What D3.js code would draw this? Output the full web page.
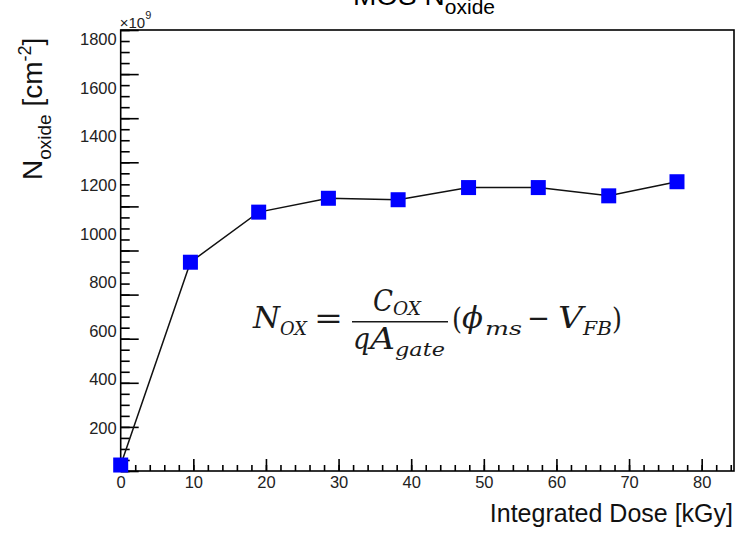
<!DOCTYPE html>
<html>
<head>
<meta charset="utf-8">
<script src="https://cdn.jsdelivr.net/npm/d3@7"></script>
<style>
  body { margin: 0; background: #fff; }
  svg { display: block; font-family: "Liberation Sans", Arial, Helvetica, sans-serif; }
  .math { font-family: "DejaVu Serif", "Liberation Serif", serif; }
</style>
</head>
<body>
<div id="chart"></div>
<script>
// dose points [kGy] and oxide charge [x10^9 cm^-2]
var dose = [0, 9.6, 19.0, 28.6, 38.2, 47.9, 57.5, 67.2, 76.6]
var nOxide = [49, 883, 1089, 1146, 1140, 1190, 1190, 1156, 1214]
var xTicks = [0, 10, 20, 30, 40, 50, 60, 70, 80]
var yLabels = [200, 400, 600, 800, 1000, 1200, 1400, 1600, 1800]

var W = 749, H = 533
var frame = {left: 120.7, right: 734, top: 30, bottom: 471}

var svg = d3.select("#chart")
    .append("svg")
      .attr("width", W)
      .attr("height", H)

var x = d3.scaleLinear()
    .domain([0, 84.45])
    .range([frame.left, frame.right])

// value scale (labels + points)
var y = d3.scaleLinear()
    .domain([24.4, 1838])
    .range([frame.bottom, frame.top])

// frame tick scale, the tick marks sit on their own grid in the picture
var yTick = d3.scaleLinear()
    .domain([0, 2000])
    .range([frame.bottom, frame.top])

// frame box
svg.append("rect")
    .attr("x", frame.left)
    .attr("y", frame.top)
    .attr("width", frame.right - frame.left)
    .attr("height", frame.bottom - frame.top)
    .attr("fill", "none")
    .attr("stroke", "#000")
    .attr("stroke-width", 1.6)

// x axis, minor + major ticks
svg.append("g")
    .attr("transform", "translate(0," + frame.bottom + ")")
    .call(d3.axisBottom(x).tickValues(d3.range(0, 85, 2)).tickSize(-6).tickFormat(""))
    .call(function(g) { g.select(".domain").remove() })
svg.append("g")
    .attr("class", "xaxis")
    .attr("transform", "translate(0," + frame.bottom + ")")
    .call(d3.axisBottom(x).tickValues(xTicks).tickSize(-12).tickPadding(5).tickFormat(d3.format("d")))
    .call(function(g) { g.select(".domain").remove() })

// y axis ticks
svg.append("g")
    .attr("transform", "translate(" + frame.left + ",0)")
    .call(d3.axisLeft(yTick).tickValues(d3.range(0, 2001, 50)).tickSize(-9).tickFormat(""))
    .call(function(g) { g.select(".domain").remove() })
svg.append("g")
    .attr("transform", "translate(" + frame.left + ",0)")
    .call(d3.axisLeft(yTick).tickValues(d3.range(0, 2001, 200)).tickSize(-18).tickFormat(""))
    .call(function(g) { g.select(".domain").remove() })
// y labels
svg.append("g")
    .attr("class", "yaxis")
    .attr("transform", "translate(" + frame.left + ",0)")
    .call(d3.axisLeft(y).tickValues(yLabels).tickSize(0).tickPadding(4).tickFormat(d3.format("d")))
    .call(function(g) { g.select(".domain").remove() })

svg.selectAll(".tick line").attr("stroke", "#000").attr("stroke-width", 1.6)
svg.selectAll(".xaxis text, .yaxis text")
    .style("font-family", "'Liberation Sans', Arial, sans-serif")
    .style("font-size", "16.5px")
    .attr("fill", "#222")

// line + markers
var line = d3.line()
    .x(function(d, i) { return x(dose[i]) })
    .y(function(d) { return y(d) })

svg.append("path")
    .datum(nOxide)
    .attr("d", line)
    .attr("fill", "none")
    .attr("stroke", "#111")
    .attr("stroke-width", 1.5)

var ms = 15
svg.selectAll("rect.pt")
    .data(nOxide)
    .enter()
    .append("rect")
    .attr("class", "pt")
    .attr("x", function(d, i) { return x(dose[i]) - ms / 2 })
    .attr("y", function(d) { return y(d) - ms / 2 })
    .attr("width", ms)
    .attr("height", ms)
    .attr("fill", "#0000ff")

// exponent
var ex = svg.append("text")
    .attr("x", frame.left - 1)
    .attr("y", 28)
    .style("font-size", "15px")
    .attr("fill", "#222")
ex.append("tspan").text("\u00d710")
ex.append("tspan").attr("dy", -9).style("font-size", "11px").text("9")

// title (cut at the top of the picture)
var tt = svg.append("text")
    .attr("x", 353)
    .attr("y", 5)
    .style("font-size", "28px")
    .attr("fill", "#000")
tt.append("tspan").text("MOS N")
tt.append("tspan").attr("dy", 9).style("font-size", "21px").text("oxide")

// axis titles
svg.append("text")
    .attr("x", 733)
    .attr("y", 522)
    .attr("text-anchor", "end")
    .style("font-size", "25px")
    .attr("fill", "#111")
    .text("Integrated Dose [kGy]")

var yt = svg.append("text")
    .attr("transform", "translate(42,180) rotate(-90)")
    .style("font-size", "28px")
    .attr("fill", "#111")
yt.append("tspan").text("N")
yt.append("tspan").attr("dy", 9).style("font-size", "19px").text("oxide")
yt.append("tspan").attr("dy", -9).text(" [cm")
yt.append("tspan").attr("dy", -11).style("font-size", "18px").text("-2")
yt.append("tspan").attr("dy", 11).text("]")

// formula
var fm = svg.append("g").attr("class", "math").attr("fill", "#1a1a1a")
function mt(tx, px, py, size, it, len) {
  var t = fm.append("text")
    .attr("x", px)
    .attr("y", py)
    .style("font-size", size + "px")
    .style("font-style", it ? "italic" : "normal")
    .text(tx)
  if (len) t.attr("textLength", len).attr("lengthAdjust", "spacingAndGlyphs")
}
mt("N", 253, 328, 29, true, 27)
mt("OX", 280, 335, 18, true, 27)
mt("=", 314, 328, 30, false, 29)
mt("C", 373, 311, 29, true, 20)
mt("OX", 393, 315, 18, true, 28)
mt("q", 353, 349, 29, true, 17)
mt("A", 370, 349, 29, true, 25)
mt("gate", 395, 356, 18, true, 50)
mt("(", 452, 329, 29, false, 10)
mt("\u03d5", 462, 328, 29, true, 21)
mt("ms", 485, 335, 18, true, 37)
mt("\u2212", 527, 328, 29, false, 23)
mt("V", 558, 328, 29, true, 25)
mt("FB", 583, 335, 18, true, 29)
mt(")", 612, 329, 29, false, 10)
fm.append("line")
    .attr("x1", 352).attr("x2", 448)
    .attr("y1", 321.7).attr("y2", 321.7)
    .attr("stroke", "#1a1a1a")
    .attr("stroke-width", 1.6)
</script>
</body>
</html>
